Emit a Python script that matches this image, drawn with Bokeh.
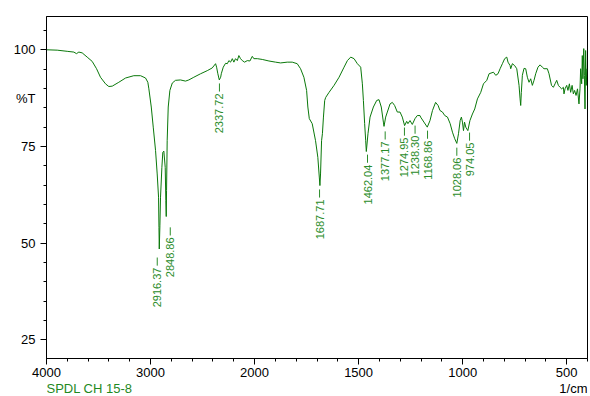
import numpy as np
from bokeh.plotting import figure
from bokeh.layouts import column
from bokeh.models import Range1d, FixedTicker, ColumnDataSource, CustomJSTickFormatter, LinearAxis
from bokeh.embed import file_html
from bokeh.resources import INLINE
from bokeh.core.properties import value

# ---- data ----
wavenumber = [
    4000, 3897, 3801, 3737, 3712, 3689, 3657, 3609, 3561, 3519,
    3481, 3433, 3401, 3368, 3305, 3240, 3161, 3096, 3048, 3026,
    3016, 2993, 2974, 2952, 2936, 2923, 2919, 2916, 2910, 2904,
    2891, 2882, 2872, 2859, 2853, 2849, 2846, 2840, 2830, 2814,
    2791, 2760, 2712, 2664, 2632, 2584, 2519, 2455, 2407, 2375,
    2365, 2353, 2339, 2326, 2320, 2301, 2279, 2262, 2247, 2231,
    2214, 2199, 2183, 2166, 2151, 2135, 2118, 2096, 2070, 2045,
    2022, 2007, 1987, 1963, 1931, 1899, 1875, 1843, 1819, 1795,
    1779, 1763, 1750, 1744, 1737, 1723, 1707, 1696, 1689, 1686,
    1683, 1678, 1674, 1669, 1663, 1658, 1642, 1618, 1594, 1570,
    1554, 1538, 1522, 1506, 1490, 1482, 1477, 1471, 1466, 1463,
    1455, 1445, 1429, 1413, 1402, 1391, 1381, 1378, 1370, 1362,
    1349, 1338, 1327, 1314, 1301, 1290, 1279, 1269, 1263, 1253,
    1242, 1229, 1218, 1205, 1202, 1186, 1170, 1157, 1145, 1130,
    1118, 1109, 1097, 1086, 1073, 1060, 1049, 1038, 1028, 1020,
    1012, 1006, 1001, 996, 991, 985, 975, 965, 953, 942,
    929, 913, 900, 884, 873, 852, 841, 830, 820, 809,
    798, 788, 782, 772, 769, 761, 750, 740, 729, 724,
    721, 718, 713, 705, 697, 689, 681, 673, 665, 657,
    649, 638, 628, 617, 609, 593, 585, 573, 564, 556,
    548, 540, 532, 524, 516, 513, 508, 500, 494, 487,
    481, 474, 468, 462, 455, 448, 441, 436, 433, 428,
    425, 422, 418, 415, 412, 409, 406, 403,
]
transmittance = [
    100.0, 99.9, 99.6, 99.4, 99.0, 99.4, 99.2, 98.1, 97.0, 95.1,
    92.9, 91.2, 90.5, 90.6, 91.6, 92.7, 93.3, 93.3, 92.7, 91.6,
    89.9, 85.2, 80.0, 74.0, 67.9, 61.9, 54.1, 48.5, 54.5, 61.9,
    69.6, 73.5, 73.8, 69.6, 61.0, 56.9, 63.6, 76.5, 85.2, 89.5,
    91.4, 92.1, 92.2, 91.9, 92.2, 92.9, 93.8, 94.6, 95.3, 96.4,
    95.5, 93.8, 92.2, 92.9, 93.8, 95.5, 96.5, 96.4, 97.2, 96.8,
    97.7, 96.8, 97.7, 97.2, 98.5, 97.7, 97.2, 96.8, 97.2, 97.1,
    98.3, 97.7, 97.7, 97.5, 97.1, 96.8, 96.6, 96.8, 96.8, 96.4,
    95.1, 92.9, 89.5, 85.2, 82.2, 80.9, 76.5, 72.2, 67.1, 64.9,
    67.9, 76.5, 78.3, 82.6, 86.9, 87.7, 89.0, 90.8, 92.9, 95.5,
    97.2, 98.1, 97.7, 96.4, 95.5, 91.2, 86.9, 80.9, 76.5, 73.7,
    78.3, 82.6, 85.2, 86.9, 87.1, 85.2, 81.3, 80.2, 82.6, 83.9,
    86.0, 86.4, 85.6, 83.9, 83.9, 82.6, 80.4, 81.5, 80.9, 81.7,
    80.7, 82.2, 83.0, 83.0, 82.6, 81.3, 80.0, 81.7, 84.3, 86.4,
    85.6, 84.3, 83.9, 83.0, 82.6, 80.9, 78.7, 77.0, 75.8, 78.3,
    81.7, 82.6, 81.3, 79.1, 81.3, 80.0, 79.1, 81.7, 83.4, 84.7,
    87.3, 89.0, 91.2, 92.1, 93.8, 94.2, 93.4, 93.8, 95.1, 96.4,
    97.7, 98.1, 96.8, 95.9, 95.1, 96.4, 95.9, 95.1, 90.8, 87.3,
    85.6, 89.0, 93.4, 95.2, 95.1, 92.9, 91.6, 92.5, 90.8, 92.1,
    93.8, 95.5, 96.1, 95.5, 95.1, 95.1, 93.8, 90.8, 90.3, 91.2,
    92.1, 90.8, 90.3, 89.9, 90.3, 88.6, 89.9, 90.8, 89.5, 91.2,
    89.0, 90.8, 88.6, 89.5, 88.2, 89.9, 86.0, 89.9, 95.1, 91.2,
    98.5, 92.5, 100.3, 93.4, 84.7, 99.8, 90.8, 95.1,
]

peak_wavenumbers = [2916.37, 2848.86, 2337.72, 1687.71, 1462.04, 1377.17,
                    1274.95, 1238.30, 1168.86, 1028.06, 974.05]
peak_labels = ["2916.37", "2848.86", "2337.72", "1687.71", "1462.04", "1377.17",
               "1274.95", "1238.30", "1168.86", "1028.06", "974.05"]
peak_label_top = [43.7, 51.5, 88.7, 61.3, 70.3, 76.3, 77.3, 77.8, 76.5, 72.1, 76.0]
peak_label_shift_px = [-2, 4, 0, 0, 1, 1, -1, 2, 0, 0, 1.5]

x_tick_values = [4000, 3000, 2000, 1500, 1000, 500]
y_tick_values = [25, 50, 75, 100]
y_title = "%T"
y_title_level = 87.5
sample_name = "SPDL CH 15-8"
x_unit = "1/cm"

# ---- piecewise wavenumber axis (scale doubles below 2000 1/cm) ----
def to_axis(w):
    w = np.asarray(w, dtype=float)
    return np.where(w >= 2000, (4000.0 - w) / 1000.0, 2.0 + (2000.0 - w) / 500.0)

FRAME_W = 541
X_MAX = 5.2
px_per_u = FRAME_W / X_MAX

LINE_COLOR = "#0a780a"
LABEL_COLOR = "#2a8c2a"
NAME_COLOR = "#1f8a1f"
FONT = "Liberation Sans"

x_range = Range1d(0, X_MAX)
p = figure(width=588, height=382, output_backend="svg", toolbar_location=None,
           x_range=x_range, y_range=Range1d(20.2, 108.6),
           min_border_left=46, min_border_right=1, min_border_top=16, min_border_bottom=24,
           background_fill_color="white", border_fill_color="white")
p.xgrid.visible = False
p.ygrid.visible = False
p.outline_line_color = "black"
p.outline_line_width = 1

# x axis
xa = p.xaxis[0]
xa.ticker = FixedTicker(ticks=to_axis(x_tick_values).tolist(),
                        minor_ticks=[round(v, 2) for v in np.arange(0, X_MAX + 0.01, 0.2)])
xa.formatter = CustomJSTickFormatter(code="""
const w = tick <= 2 ? 4000 - 1000 * tick : 2000 - 500 * (tick - 2);
return String(Math.round(w));
""")
xa.major_label_standoff = 3

# inner y axis: tick marks only
ya = p.yaxis[0]
ya.ticker = FixedTicker(ticks=y_tick_values, minor_ticks=list(range(25, 106, 5)))
ya.formatter = CustomJSTickFormatter(code="return '';")
ya.major_label_standoff = 0

for ax in (xa, ya):
    ax.axis_line_color = "black"
    ax.major_tick_line_color = "black"
    ax.minor_tick_line_color = "black"
    ax.major_tick_in = 0
    ax.minor_tick_in = 0
    ax.major_tick_out = 6
    ax.minor_tick_out = 3
    ax.major_label_text_font = FONT
    ax.major_label_text_font_size = "13px"
    ax.major_label_text_color = "black"

# outer y axis: labels only, including the %T title
ya2 = LinearAxis(ticker=FixedTicker(ticks=y_tick_values + [y_title_level], minor_ticks=[]),
                 formatter=CustomJSTickFormatter(args=dict(title=y_title, level=y_title_level), code="""
return tick == level ? title : String(tick);
"""),
                 axis_line_color=None, major_tick_line_color=None, minor_tick_line_color=None,
                 major_tick_out=0, major_tick_in=0, minor_tick_out=0, minor_tick_in=0,
                 major_label_standoff=5, major_label_text_font=FONT,
                 major_label_text_font_size="13px", major_label_text_color="black")
p.add_layout(ya2, "left")

p.line(to_axis(wavenumber), transmittance, line_color=LINE_COLOR, line_width=1)

label_x = to_axis(peak_wavenumbers) + np.array(peak_label_shift_px) / px_per_u
top = np.array(peak_label_top)
src = ColumnDataSource(dict(x=label_x, y=top, text=peak_labels,
                            y0=top + 0.5, y1=top + 2.6))
p.segment(x0="x", y0="y0", x1="x", y1="y1", source=src, line_color=LABEL_COLOR, line_width=1)
p.text(x="x", y="y", text="text", source=src, angle=np.pi / 2,
       text_align="right", text_baseline="middle",
       text_font=value(FONT), text_font_size=value("11px"), text_color=LABEL_COLOR)

# bottom strip with sample name and unit
strip = figure(width=588, height=14, output_backend="svg", toolbar_location=None,
               x_range=x_range, y_range=Range1d(0, 14),
               min_border_left=46, min_border_right=1, min_border_top=0, min_border_bottom=0,
               x_axis_type=None, y_axis_type=None,
               background_fill_color="white", border_fill_color="white")
strip.outline_line_color = None
strip.xgrid.visible = False
strip.ygrid.visible = False
strip.text(x=[0], y=[8], text=[sample_name], text_align="left", text_baseline="middle",
           text_font=value(FONT), text_font_size=value("13px"), text_color=NAME_COLOR)
strip.text(x=[X_MAX], y=[8], text=[x_unit], text_align="right", text_baseline="middle",
           text_font=value(FONT), text_font_size=value("13px"), text_color="black")

layout = column(p, strip, spacing=0)
open("out.html", "w").write(file_html(layout, INLINE))
